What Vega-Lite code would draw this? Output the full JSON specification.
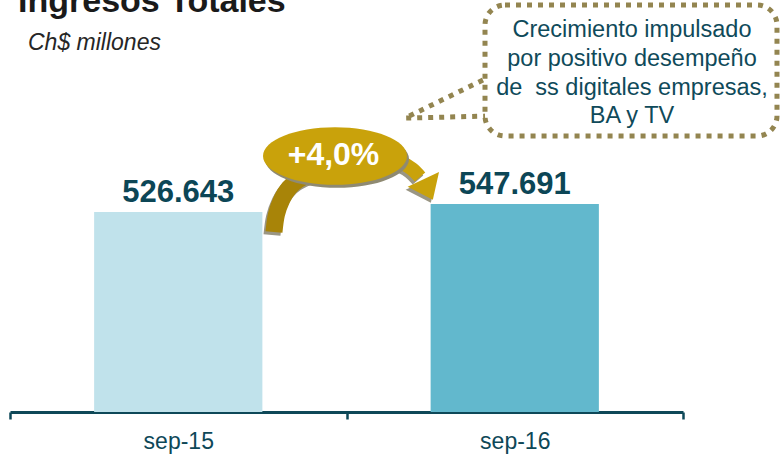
{
  "$schema": "https://vega.github.io/schema/vega-lite/v6.json",
  "width": 673,
  "height": 412,
  "autosize": "none",
  "padding": {"left": 10, "top": 0, "right": 97, "bottom": 42},
  "config": {
    "view": {"stroke": null},
    "font": "Liberation Sans",
    "locale": {"number": {"decimal": ",", "thousands": ".", "grouping": [3], "currency": ["$", ""]}}
  },
  "datasets": {
    "bars": [
      {"periodo": "sep-15", "ingresos": 526643},
      {"periodo": "sep-16", "ingresos": 547691}
    ],
    "notes": [
      {"kind": "title", "u": 0.0238, "v": 1052083, "label": "Ingresos Totales"},
      {"kind": "sub", "u": 0.0535, "v": 953327, "label": "Ch$ millones"},
      {"kind": "note", "u": 1.8484, "v": 987562, "label": "Crecimiento impulsado\npor positivo desempeño\nde\u00a0 ss digitales empresas,\nBA y TV"},
      {"kind": "box", "u": 1.4116, "u2": 2.2793, "v": 1071835, "v2": 726846},
      {"kind": "ptr", "k": 1, "u": 1.4056, "v": 874322},
      {"kind": "ptr", "k": 2, "u": 1.1738, "v": 774000},
      {"kind": "ptr", "k": 3, "u": 1.4264, "v": 779516},
      {"kind": "arcL", "k": 1, "u": 0.7845, "v": 474000},
      {"kind": "arcL", "k": 2, "u": 0.7920, "v": 521000},
      {"kind": "arcL", "k": 3, "u": 0.8083, "v": 560936},
      {"kind": "arcL", "k": 4, "u": 0.8291, "v": 589904},
      {"kind": "arcL", "k": 5, "u": 0.8559, "v": 610972},
      {"kind": "arcL", "k": 6, "u": 0.8915, "v": 626773},
      {"kind": "arcR", "k": 1, "u": 1.1293, "v": 663642},
      {"kind": "arcR", "k": 2, "u": 1.1649, "v": 655742},
      {"kind": "arcR", "k": 3, "u": 1.1947, "v": 639941},
      {"kind": "arcR", "k": 4, "u": 1.2184, "v": 618873},
      {"kind": "head", "u": 1.2392, "v": 592000},
      {"kind": "ell", "u": 0.9658, "v": 674176},
      {"kind": "pct", "u": 0.9614, "v": 650474, "label": "+4,0%"}
    ]
  },
  "layer": [
    {
      "data": {"name": "bars"},
      "encoding": {
        "x": {
          "field": "periodo", "type": "nominal",
          "scale": {"paddingInner": 0, "paddingOuter": 0},
          "axis": {
            "title": null, "labelAngle": 0, "tickBand": "extent",
            "tickSize": 7, "tickWidth": 2.5, "tickColor": "#0e4858",
            "domainColor": "#0e4858", "domainWidth": 3,
            "labelFont": "Liberation Sans", "labelFontSize": 23, "labelColor": "#0e4858",
            "labelBaseline": "alphabetic", "labelPadding": 29, "grid": false
          }
        },
        "y": {"field": "ingresos", "type": "quantitative", "scale": {"domain": [0, 1085000], "nice": false}, "axis": null}
      },
      "layer": [
        {
          "mark": {"type": "bar", "width": {"band": 0.5}},
          "encoding": {
            "color": {"field": "periodo", "type": "nominal", "scale": {"range": ["#c0e2eb", "#62b8cd"]}, "legend": null}
          }
        },
        {
          "mark": {"type": "text", "dy": -10, "baseline": "alphabetic", "align": "center", "fontSize": 31, "fontWeight": "bold", "color": "#0c4656", "font": "Liberation Sans"},
          "encoding": {"text": {"field": "ingresos", "type": "quantitative", "format": ",d"}}
        }
      ]
    },
    {
      "data": {"name": "notes"},
      "encoding": {
        "x": {"field": "u", "type": "quantitative", "scale": {"domain": [0, 2], "nice": false, "zero": false}, "axis": null},
        "y": {"field": "v", "type": "quantitative", "scale": {"domain": [0, 1085000], "nice": false}, "axis": null}
      },
      "layer": [
        {
          "transform": [{"filter": "datum.kind == 'title'"}],
          "mark": {"type": "text", "align": "left", "baseline": "alphabetic", "fontSize": 34, "fontWeight": "bold", "color": "#1a1a1a"},
          "encoding": {"text": {"field": "label"}}
        },
        {
          "transform": [{"filter": "datum.kind == 'sub'"}],
          "mark": {"type": "text", "align": "left", "baseline": "alphabetic", "fontSize": 23, "fontStyle": "italic", "color": "#262626"},
          "encoding": {"text": {"field": "label"}}
        },
        {
          "transform": [{"filter": "datum.kind == 'ptr'"}],
          "mark": {"type": "line", "stroke": "#938550", "strokeWidth": 5, "strokeDash": [5, 6]},
          "encoding": {"order": {"field": "k"}}
        },
        {
          "transform": [{"filter": "datum.kind == 'box'"}],
          "mark": {"type": "rect", "fill": "white", "stroke": "#938550", "strokeWidth": 5, "strokeDash": [5, 6], "cornerRadius": 20},
          "encoding": {"x2": {"field": "u2"}, "y2": {"field": "v2"}}
        },
        {
          "transform": [{"filter": "datum.kind == 'note'"}],
          "mark": {"type": "text", "align": "center", "baseline": "alphabetic", "fontSize": 23.5, "lineHeight": 28.8, "lineBreak": "\n", "color": "#0f4a5a"},
          "encoding": {"text": {"field": "label"}}
        },
        {
          "transform": [{"filter": "datum.kind == 'arcL'"}],
          "mark": {"type": "line", "stroke": "#9a9684", "strokeWidth": 17, "strokeCap": "butt", "interpolate": "cardinal", "xOffset": -2, "yOffset": 3},
          "encoding": {"order": {"field": "k"}}
        },
        {
          "transform": [{"filter": "datum.kind == 'arcL'"}],
          "mark": {"type": "line", "stroke": "#a88408", "strokeWidth": 17, "strokeCap": "butt", "interpolate": "cardinal"},
          "encoding": {"order": {"field": "k"}}
        },
        {
          "transform": [{"filter": "datum.kind == 'arcR'"}],
          "mark": {"type": "line", "stroke": "#9a9684", "strokeWidth": 14, "strokeCap": "butt", "interpolate": "cardinal", "xOffset": -2, "yOffset": 3},
          "encoding": {"order": {"field": "k"}}
        },
        {
          "transform": [{"filter": "datum.kind == 'arcR'"}],
          "mark": {"type": "line", "stroke": "#c9a20b", "strokeWidth": 14, "strokeCap": "butt", "interpolate": "cardinal"},
          "encoding": {"order": {"field": "k"}}
        },
        {
          "transform": [{"filter": "datum.kind == 'head'"}],
          "mark": {"type": "point", "shape": "M -1 -0.5 L 1 -0.5 L 0 0.8 Z", "size": 1200, "angle": 335, "filled": true, "opacity": 1, "color": "#9a9684", "xOffset": -2, "yOffset": 3}
        },
        {
          "transform": [{"filter": "datum.kind == 'head'"}],
          "mark": {"type": "point", "shape": "M -1 -0.5 L 1 -0.5 L 0 0.8 Z", "size": 1200, "angle": 335, "filled": true, "opacity": 1, "color": "#c9a20b"}
        },
        {
          "transform": [{"filter": "datum.kind == 'ell'"}],
          "mark": {"type": "point", "shape": "M -1 0 A 1 0.4 0 1 0 1 0 A 1 0.4 0 1 0 -1 0 Z", "size": 20736, "filled": true, "opacity": 1, "color": "#8f8a72", "xOffset": 2, "yOffset": 3}
        },
        {
          "transform": [{"filter": "datum.kind == 'ell'"}],
          "mark": {"type": "point", "shape": "M -1 0 A 1 0.4 0 1 0 1 0 A 1 0.4 0 1 0 -1 0 Z", "size": 20736, "filled": true, "opacity": 1, "color": "#c9a20b"}
        },
        {
          "transform": [{"filter": "datum.kind == 'pct'"}],
          "mark": {"type": "text", "align": "center", "baseline": "alphabetic", "fontSize": 32, "fontWeight": "bold", "color": "white"},
          "encoding": {"text": {"field": "label"}}
        }
      ]
    }
  ],
  "resolve": {"scale": {"x": "independent"}}
}
